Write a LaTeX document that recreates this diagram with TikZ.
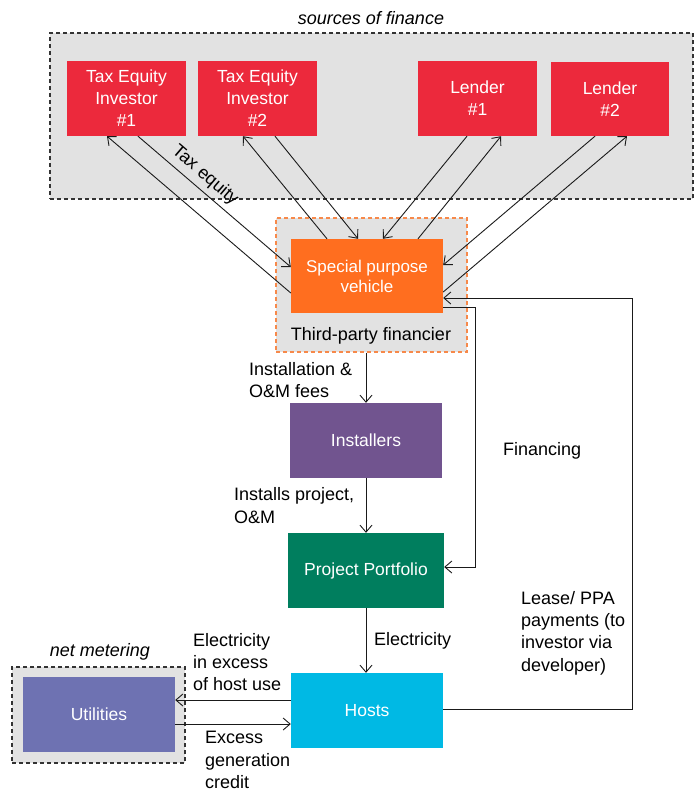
\documentclass[tikz,border=0pt]{standalone}
\usepackage{fontspec}
\setmainfont{Liberation Sans}
\usetikzlibrary{arrows.meta,calc}
\definecolor{cred}{HTML}{EC293C}
\definecolor{corange}{HTML}{FF6E1F}
\definecolor{cpurple}{HTML}{71548F}
\definecolor{cgreen}{HTML}{007E5E}
\definecolor{ccyan}{HTML}{00B9E4}
\definecolor{cutil}{HTML}{6E72B2}
\definecolor{cgray}{HTML}{E2E2E2}
\definecolor{cdashor}{HTML}{F7894A}
\definecolor{cline}{HTML}{1A1A1A}
\begin{document}
\begin{tikzpicture}[x=1pt,y=-1pt,
  boxnode/.style={rectangle, inner sep=0pt, text=white, align=center,
    font=\fontsize{17.5}{22}\selectfont},
  grpbox/.style={rectangle, inner sep=0pt, fill=cgray, draw=black!80,
    line width=1.1pt, dash pattern=on 4pt off 3pt},
  lbl/.style={inner sep=0pt, align=left, font=\fontsize{18}{22.3}\selectfont},
  arr/.style={draw=cline, line width=0.9pt, -{Straight Barb[length=7pt,width=12pt]}}
]
\useasboundingbox (0,0) rectangle (696,793);

% group boxes
\node[grpbox, minimum width=643pt, minimum height=166pt] (src) at (371.5,116) {};
\node[lbl, font=\fontsize{18}{22}\selectfont\itshape] (srct) at (371,18) {sources of finance};
\node[grpbox, draw=cdashor, minimum width=191pt, minimum height=134pt] (tpf) at (371.5,285) {};
\node[lbl] (tpft) at (371,336) {Third-party financier};
\node[grpbox, minimum width=173pt, minimum height=96pt] (net) at (98.5,715) {};
\node[lbl, font=\fontsize{18}{22}\selectfont\itshape] (nett) at (100,652) {net metering};

% boxes
\node[boxnode, fill=cred, minimum width=119pt, minimum height=75pt] (tei1) at (126.5,98.5) {Tax Equity\\Investor\\\#1};
\node[boxnode, fill=cred, minimum width=119pt, minimum height=75pt] (tei2) at (257.5,98.5) {Tax Equity\\Investor\\\#2};
\node[boxnode, fill=cred, minimum width=119pt, minimum height=75pt] (l1) at (477.5,98.5) {Lender\\\#1};
\node[boxnode, fill=cred, minimum width=118pt, minimum height=74pt] (l2) at (610,99) {Lender\\\#2};
\node[boxnode, fill=corange, minimum width=152pt, minimum height=74pt, font=\fontsize{17}{20}\selectfont] (spv) at (367,276) {Special purpose\\vehicle};
\node[boxnode, fill=cpurple, minimum width=152pt, minimum height=75pt] (inst) at (366,440.5) {Installers};
\node[boxnode, fill=cgreen, minimum width=156pt, minimum height=75pt] (pp) at (366,570.5) {Project Portfolio};
\node[boxnode, fill=ccyan, minimum width=152pt, minimum height=75pt] (hosts) at (367,710.5) {Hosts};
\node[boxnode, fill=cutil, minimum width=152pt, minimum height=75pt] (util) at (99,714.5) {Utilities};

% arrows between SPV and sources
\draw[arr] ([yshift=-17pt]spv.west) -- ([xshift=-19.5pt]tei1.south);
\draw[arr] ([xshift=11.5pt]tei1.south) -- node[sloped, above=5pt, pos=0.38, lbl] {Tax equity} ([yshift=9pt]spv.west);
\draw[arr] ([xshift=-40pt]spv.north) -- ([xshift=-14.5pt]tei2.south);
\draw[arr] ([xshift=17.5pt]tei2.south) -- ([xshift=-9pt]spv.north);
\draw[arr] ([xshift=-10.5pt]l1.south) -- ([xshift=16pt]spv.north);
\draw[arr] ([xshift=51pt]spv.north) -- ([xshift=23.5pt]l1.south);
\draw[arr] ([xshift=-15pt]l2.south) -- ([yshift=11pt]spv.east);
\draw[arr] ([yshift=-16pt]spv.east) -- ([xshift=17pt]l2.south);

% financing and lease loops
\draw[arr] ([yshift=-31pt]spv.east) -- ++(32,0) |- ([yshift=3.5pt]pp.east);
\draw[arr] ([yshift=1.5pt]hosts.east) -- ++(189,0) |- ([yshift=-22pt]spv.east);

% vertical chain
\draw[arr] (inst.north |- tpf.south) -- (inst.north);
\draw[arr] (inst.south) -- (inst.south |- pp.north);
\draw[arr] (pp.south) -- (pp.south |- hosts.north);

% hosts and utilities
\draw[arr] ([yshift=10.5pt]hosts.west) -- ([yshift=10.5pt]hosts.west -| util.east);
\draw[arr] ([yshift=-13.5pt]hosts.west -| util.east) -- ([yshift=-13.5pt]hosts.west);

% labels
\node[lbl, anchor=west] (lbinst) at (249,380) {Installation \&\\O\&M fees};
\node[lbl, anchor=west] (lbinp) at (234,505.5) {Installs project,\\O\&M};
\node[lbl, anchor=west] (lbel) at (374,641) {Electricity};
\node[lbl, anchor=west] (lbfin) at (503,451) {Financing};
\node[lbl, anchor=west] (lblease) at (521,633) {Lease/ PPA\\payments (to\\investor via\\developer)};
\node[lbl, anchor=west] (lbexc) at (193,662) {Electricity\\in excess\\of host use};
\node[lbl, anchor=west] (lbcred) at (205,760) {Excess\\generation\\credit};
\end{tikzpicture}
\end{document}
